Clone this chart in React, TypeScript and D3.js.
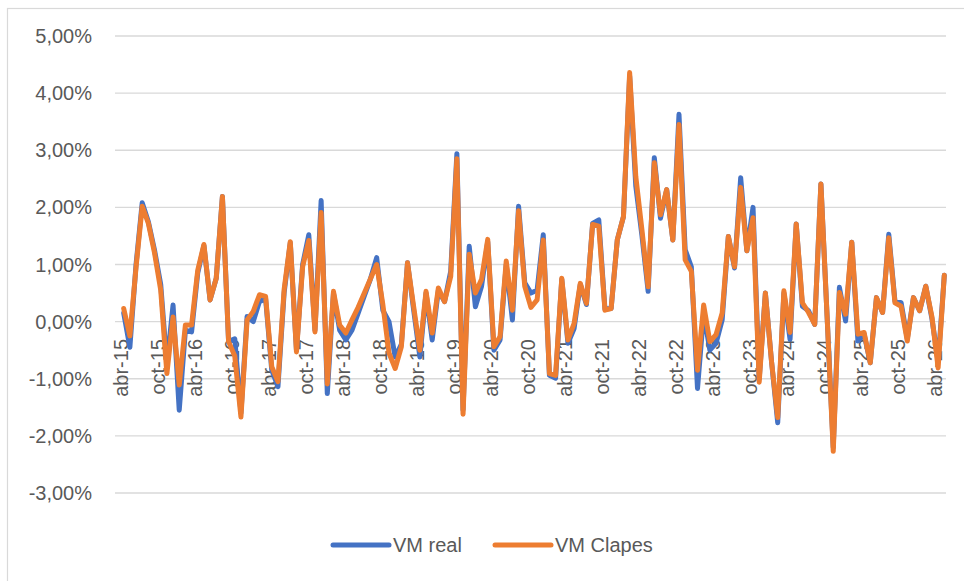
import React, { Component } from 'react';
import * as d3 from 'd3';

// monthly series, abr-15 .. may-26
const monthNames = ['ene', 'feb', 'mar', 'abr', 'may', 'jun', 'jul', 'ago', 'sep', 'oct', 'nov', 'dic'];

const vmReal = [
    0.15, -0.45, 1.0, 2.08, 1.75, 1.25, 0.65, -0.75, 0.29, -1.55,
    -0.15, -0.18, 0.85, 1.33, 0.38, 0.76, 2.19, -0.35, -0.3, -1.6,
    0.09, 0.0, 0.35, 0.4, -0.85, -1.14, 0.5, 1.38, -0.5, 1.0,
    1.52, -0.15, 2.12, -1.26, 0.5, -0.15, -0.32, -0.15, 0.15, 0.45,
    0.75, 1.12, 0.2, 0.0, -0.62, -0.4, 1.03, 0.2, -0.62, 0.5,
    -0.32, 0.55, 0.35, 0.88, 2.94, -1.55, 1.32, 0.26, 0.62, 1.4,
    -0.5, -0.32, 1.0, 0.03, 2.02, 0.68, 0.5, 0.55, 1.52, -0.94,
    -0.99, 0.74, -0.38, -0.12, 0.65, 0.3, 1.72, 1.78, 0.22, 0.23,
    1.43, 1.84, 4.3, 2.37, 1.5, 0.53, 2.87, 1.81, 2.31, 1.43,
    3.63, 1.26, 0.96, -1.17, 0.15, -0.5, -0.38, 0.03, 1.49, 0.94,
    2.52, 1.24, 2.0, -1.0, 0.5, -0.7, -1.77, 0.5, -0.31, 1.71,
    0.27, 0.19, -0.05, 2.41, 0.1, -2.2, 0.6, 0.01, 1.39, -0.34,
    -0.22, -0.72, 0.42, 0.16, 1.53, 0.36, 0.33, -0.3, 0.42, 0.19,
    0.62, 0.05, -0.7, 0.81
];

const vmClapes = [
    0.23, -0.25, 0.95, 2.02, 1.72, 1.2, 0.55, -0.91, 0.08, -1.11,
    -0.06, -0.06, 0.9, 1.35, 0.38, 0.76, 2.19, -0.35, -0.6, -1.67,
    0.03, 0.18, 0.47, 0.44, -0.79, -1.05, 0.56, 1.4, -0.53, 0.96,
    1.42, -0.18, 1.91, -1.09, 0.53, -0.06, -0.2, 0.03, 0.25, 0.5,
    0.75, 1.0, 0.3, -0.55, -0.82, -0.44, 1.03, 0.26, -0.5, 0.53,
    -0.2, 0.59, 0.35, 0.79, 2.85, -1.62, 1.18, 0.5, 0.74, 1.44,
    -0.44, -0.26, 1.06, 0.2, 1.94, 0.62, 0.25, 0.38, 1.43, -0.91,
    -0.94, 0.76, -0.32, -0.03, 0.67, 0.32, 1.7, 1.67, 0.2, 0.23,
    1.43, 1.84, 4.36, 2.54, 1.6, 0.61, 2.78, 1.87, 2.31, 1.43,
    3.45, 1.08, 0.88, -0.85, 0.29, -0.35, -0.23, 0.15, 1.49, 0.96,
    2.35, 1.24, 1.82, -1.06, 0.5, -0.7, -1.68, 0.54, -0.19, 1.71,
    0.33, 0.16, -0.05, 2.41, 0.1, -2.27, 0.51, 0.13, 1.39, -0.22,
    -0.19, -0.72, 0.42, 0.16, 1.47, 0.33, 0.27, -0.34, 0.42, 0.19,
    0.62, 0.08, -0.81, 0.81
];

const tickLabels = [
    'abr-15', 'oct-15', 'abr-16', 'oct-16', 'abr-17', 'oct-17', 'abr-18', 'oct-18',
    'abr-19', 'oct-19', 'abr-20', 'oct-20', 'abr-21', 'oct-21', 'abr-22', 'oct-22',
    'abr-23', 'oct-23', 'abr-24', 'oct-24', 'abr-25', 'oct-25', 'abr-26'
];

const yTicks = [5, 4, 3, 2, 1, 0, -1, -2, -3];

const seriesNames = ['VM real', 'VM Clapes'];
const colors = ['#4472C4', '#ED7D31'];

// category names built from the start month, one per value
const categories = vmReal.map((_, i) => {
    const m = 3 + i;
    return monthNames[m % 12] + '-' + String(15 + Math.floor(m / 12));
});

class App extends Component {

    svgRef = React.createRef<SVGSVGElement>();

    render() {
        return (
            <svg ref={this.svgRef} width={964} height={581}
                style={{ position: 'absolute', left: 0, top: 0, background: '#fff' }}></svg>
        );
    }

    componentDidMount() {
        this.initGraph();
    }

    initGraph = () => {
        const svg = d3.select(this.svgRef.current);
        svg.selectAll('*').remove();

        const font = "'Liberation Sans', Arial, sans-serif";
        const textColor = '#595959';

        // chart border
        svg.append('rect')
            .attr('x', 7.5).attr('y', 8.5)
            .attr('width', 970).attr('height', 590)
            .attr('fill', 'none')
            .attr('stroke', '#D9D9D9')
            .attr('stroke-width', 1.2);

        const x = d3.scalePoint<string>().domain(categories).range([123.7, 944.3]);
        const y = d3.scaleLinear().domain([-3, 5]).range([493, 36]);

        // gridlines
        svg.append('g').selectAll('line')
            .data(yTicks)
            .enter()
            .append('line')
            .attr('x1', 115).attr('x2', 946)
            .attr('y1', d => y(d)).attr('y2', d => y(d))
            .attr('stroke', '#D9D9D9')
            .attr('stroke-width', 1.3);

        // y labels
        svg.append('g').selectAll('text')
            .data(yTicks)
            .enter()
            .append('text')
            .attr('x', 92)
            .attr('y', d => y(d))
            .attr('text-anchor', 'end')
            .attr('dominant-baseline', 'central')
            .style('font-family', font)
            .style('font-size', '20px')
            .attr('fill', textColor)
            .text(d => d.toFixed(2).replace('.', ',') + '%');

        // x labels, rotated, hanging under the zero line
        svg.append('g').selectAll('text')
            .data(tickLabels)
            .enter()
            .append('text')
            .attr('transform', d => 'translate(' + ((x(d) as number) - 3) + ',339) rotate(-90)')
            .attr('text-anchor', 'end')
            .attr('dominant-baseline', 'central')
            .style('font-family', font)
            .style('font-size', '20px')
            .attr('fill', textColor)
            .text(d => d);

        const line = d3.line<number>()
            .x((d, i) => x(categories[i]) as number)
            .y(d => y(d));

        [vmReal, vmClapes].forEach((series, k) => {
            svg.append('path')
                .attr('d', line(series))
                .attr('fill', 'none')
                .attr('stroke', colors[k])
                .attr('stroke-width', 5)
                .attr('stroke-linejoin', 'round')
                .attr('stroke-linecap', 'round');
        });

        // legend
        const legendX = [333, 495];
        const legend = svg.append('g').selectAll('g')
            .data(seriesNames)
            .enter()
            .append('g')
            .attr('transform', (d, i) => 'translate(' + legendX[i] + ',545)');

        legend.append('line')
            .attr('x1', 0).attr('x2', 56)
            .attr('y1', 0).attr('y2', 0)
            .attr('stroke', (d, i) => colors[i])
            .attr('stroke-width', 5)
            .attr('stroke-linecap', 'round');

        legend.append('text')
            .attr('x', 60)
            .attr('y', 0)
            .attr('dominant-baseline', 'central')
            .style('font-family', font)
            .style('font-size', '20px')
            .attr('fill', textColor)
            .text(d => d);
    }
}

export default App;
